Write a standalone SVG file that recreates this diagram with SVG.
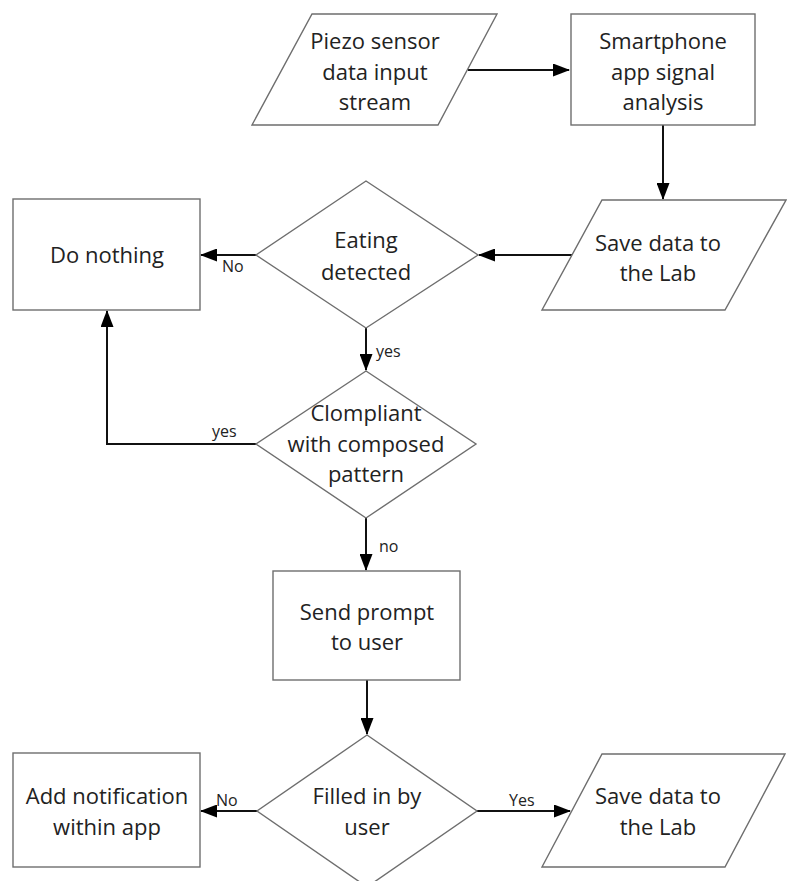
<svg xmlns="http://www.w3.org/2000/svg" width="787" height="881" viewBox="0 0 787 881">
<style>
.s{fill:#fff;stroke:#6e6e6e;stroke-width:1.4}
.t{font-family:"Open Sans","Noto Sans",sans-serif;font-size:22px;fill:#222;text-anchor:middle}
.l{font-family:"Open Sans","Noto Sans",sans-serif;font-size:16px;fill:#222}
.c{fill:none;stroke:#111;stroke-width:2}
</style>
<defs>
<marker id="a" markerWidth="17" markerHeight="13" refX="16" refY="6.5" orient="auto" markerUnits="userSpaceOnUse">
<path d="M0,0 L17,6.5 L0,13 Z" fill="#000"/>
</marker>
</defs>
<g id="connectors">
<path class="c" d="M468,70 H569" marker-end="url(#a)"/>
<path class="c" d="M663,125 V199" marker-end="url(#a)"/>
<path class="c" d="M572,255 H479" marker-end="url(#a)"/>
<path class="c" d="M256,255 H201" marker-end="url(#a)"/>
<path class="c" d="M366,328 V370" marker-end="url(#a)"/>
<path class="c" d="M256,444 H107 V311" marker-end="url(#a)"/>
<path class="c" d="M366,518 V570" marker-end="url(#a)"/>
<path class="c" d="M367,680 V734" marker-end="url(#a)"/>
<path class="c" d="M257,811 H201" marker-end="url(#a)"/>
<path class="c" d="M477,811 H570" marker-end="url(#a)"/>
<text class="l" x="222" y="272">No</text>
<text class="l" x="376" y="357">yes</text>
<text class="l" x="212" y="437">yes</text>
<text class="l" x="379" y="552">no</text>
<text class="l" x="216" y="806">No</text>
<text class="l" x="509" y="806">Yes</text>
</g>
<g id="piezo">
<polygon class="s" points="312,14 497,14 438,125 252,125"/>
<text class="t" x="375" y="49">Piezo sensor</text>
<text class="t" x="375" y="80">data input</text>
<text class="t" x="375" y="110">stream</text>
</g>
<g id="smartphone">
<rect class="s" x="571" y="14" width="184" height="111"/>
<text class="t" x="663" y="49">Smartphone</text>
<text class="t" x="663" y="80">app signal</text>
<text class="t" x="663" y="110">analysis</text>
</g>
<g id="save1">
<polygon class="s" points="602,200 786,200 725,310 542,310"/>
<text class="t" x="658" y="251">Save data to</text>
<text class="t" x="658" y="281">the Lab</text>
</g>
<g id="eating">
<polygon class="s" points="366,181 478,255 366,328 256,255"/>
<text class="t" x="366" y="248">Eating</text>
<text class="t" x="366" y="280">detected</text>
</g>
<g id="nothing">
<rect class="s" x="13" y="199" width="187" height="111"/>
<text class="t" x="107" y="263">Do nothing</text>
</g>
<g id="compliant">
<polygon class="s" points="366,371 476,444 366,518 256,444"/>
<text class="t" x="366" y="421">Clompliant</text>
<text class="t" x="366" y="452">with composed</text>
<text class="t" x="366" y="482">pattern</text>
</g>
<g id="prompt">
<rect class="s" x="273" y="571" width="187" height="109"/>
<text class="t" x="367" y="620">Send prompt</text>
<text class="t" x="367" y="650">to user</text>
</g>
<g id="filled">
<polygon class="s" points="367,735 477,811 367,887 257,811"/>
<text class="t" x="367" y="804">Filled in by</text>
<text class="t" x="367" y="835">user</text>
</g>
<g id="notify">
<rect class="s" x="13" y="753" width="187" height="114"/>
<text class="t" x="107" y="804">Add notification</text>
<text class="t" x="107" y="835">within app</text>
</g>
<g id="save2">
<polygon class="s" points="602,754 785,754 725,867 542,867"/>
<text class="t" x="658" y="804">Save data to</text>
<text class="t" x="658" y="835">the Lab</text>
</g>
</svg>
